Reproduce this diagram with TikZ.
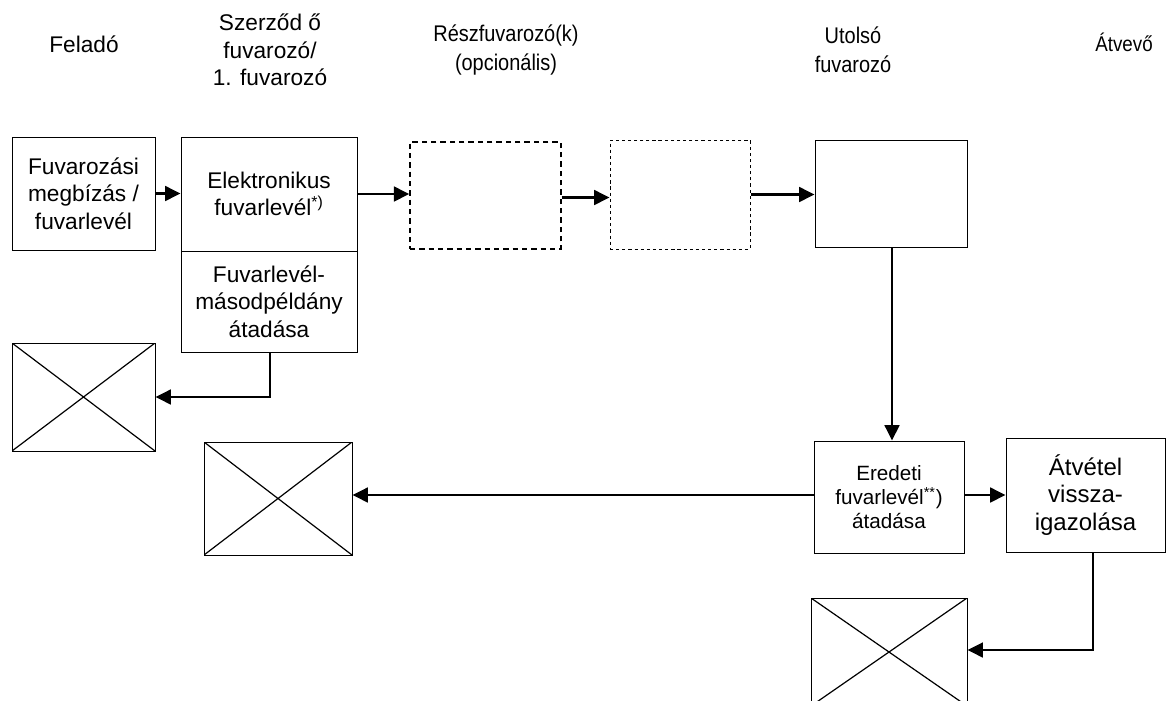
\documentclass[tikz,border=0pt]{standalone}
\usepackage{fontspec}
\setmainfont{Liberation Sans}
\newfontfamily\narrowfont{Liberation Sans}[FakeStretch=0.88]
\usetikzlibrary{arrows.meta}

\tikzset{every picture/.style={line width=0.75pt}}
\tikzset{
  box/.style={draw, rectangle, inner sep=0pt, align=center, font=\fontsize{17}{20.5}\selectfont},
  dashboxa/.style={box, dash pattern=on 4pt off 3pt, line width=1.1pt},
  dashboxb/.style={box, dash pattern=on 2.4pt off 2.2pt},
  xbox/.style={box, path picture={\draw[line width=0.9pt] (path picture bounding box.north west) -- (path picture bounding box.south east) (path picture bounding box.south west) -- (path picture bounding box.north east);}},
  head/.style={inner sep=0pt, align=center, font=\fontsize{17}{20.5}\selectfont},
  flow/.style={line width=1.9pt, -{Triangle[length=11.5pt,width=11pt]}}
}

\begin{document}
\begin{tikzpicture}[x=0.75pt,y=0.75pt,yscale=-1,xscale=1]
\useasboundingbox (0,0) rectangle (1166,700);

% Text Node
\node (hfelado) at (84,44) [head] {Feladó};
% Text Node
\node (hszerzodo) at (270,50) [head] {Szerződ ő\\fuvarozó/\\1. fuvarozó};
% Text Node
\node (hresz) at (506,50) [head, font=\fontsize{17}{21.5}\narrowfont] {Részfuvarozó(k)\\(opcionális)};
% Text Node
\node (hutolso) at (853,50) [head, font=\fontsize{17}{21.5}\narrowfont] {Utolsó\\fuvarozó};
% Text Node
\node (hatvevo) at (1124,42) [head, font=\fontsize{16}{18}\narrowfont] {Átvevő};

%Shape: Rectangle
\node (megbizas) at (83.5,193.5) [box, minimum width=107.25pt, minimum height=84.75pt] {Fuvarozási\\megbízás /\\fuvarlevél};
%Shape: Rectangle
\node (elektr) at (269,194) [box, minimum width=132pt, minimum height=85.5pt] {Elektronikus\\fuvarlevél\textsuperscript{*)}};
%Shape: Rectangle
\node (masod) at (269,301.5) [box, minimum width=132pt, minimum height=75.75pt] {Fuvarlevél-\\másodpéldány\\átadása};
%Shape: Rectangle
\node (resza) at (485.5,195.5) [dashboxa, minimum width=113.25pt, minimum height=80.25pt] {};
%Shape: Rectangle
\node (reszb) at (680,194.5) [dashboxb, minimum width=105pt, minimum height=81.75pt] {};
%Shape: Rectangle
\node (utolso) at (891,193.5) [box, minimum width=114pt, minimum height=80.25pt] {};
%Shape: Rectangle
\node (eredeti) at (889,497) [box, minimum width=112.5pt, minimum height=84pt, font=\fontsize{15.5}{18}\selectfont] {Eredeti\\fuvarlevél\textsuperscript{**})\\átadása};
%Shape: Rectangle
\node (atvetel) at (1085.5,495) [box, minimum width=119.25pt, minimum height=85.5pt, font=\fontsize{18}{20.5}\selectfont] {Átvétel\\vissza-\\igazolása};

%Shape: Crossed boxes
\node (xfelado) at (83.5,397) [xbox, minimum width=107.25pt, minimum height=81pt] {};
\node (xszerzodo) at (278,498.5) [xbox, minimum width=111pt, minimum height=84.75pt] {};
\node (xatvevo) at (889,652) [xbox, minimum width=117pt, minimum height=81pt] {};

%Straight Lines
\draw [flow] (megbizas.east) -- (megbizas.east -| elektr.west);
\draw [flow] (elektr.east) -- (elektr.east -| resza.west);
\draw [flow] ([yshift=1.5pt]resza.east) -- ([yshift=1.5pt]resza.east -| reszb.west);
\draw [flow] (reszb.east) -- (reszb.east -| utolso.west);
\draw [flow] ([xshift=0.75pt]utolso.south) -- ([xshift=0.75pt]utolso.south |- eredeti.north);
\draw [flow] ([xshift=0.75pt]masod.south) |- (xfelado.east);
\draw [flow] ([yshift=-1.5pt]eredeti.west) -- ([yshift=-1.5pt]eredeti.west -| xszerzodo.east);
\draw [flow] ([yshift=-1.5pt]eredeti.east) -- ([yshift=-1.5pt]eredeti.east -| atvetel.west);
\draw [flow] ([xshift=5.6pt]atvetel.south) |- ([yshift=-1.5pt]xatvevo.east);

\end{tikzpicture}
\end{document}
